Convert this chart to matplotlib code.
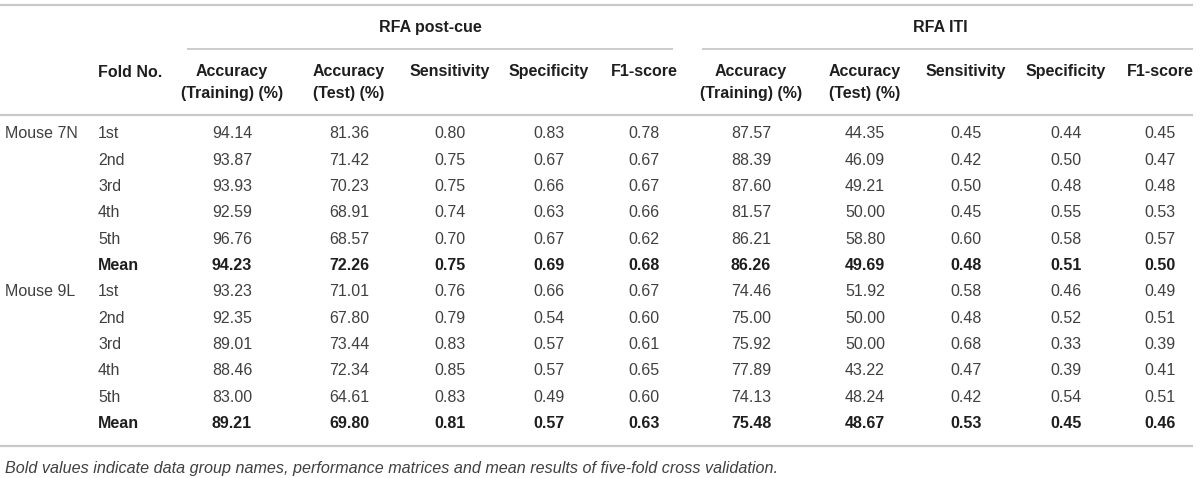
import matplotlib
matplotlib.use('Agg')
import matplotlib.pyplot as plt

plt.rcParams['font.family'] = ['Liberation Sans', 'DejaVu Sans']

# table content
groups = ['RFA post-cue', 'RFA ITI']
metrics = ['Accuracy\n(Training) (%)', 'Accuracy\n(Test) (%)', 'Sensitivity', 'Specificity', 'F1-score']
mice = ['Mouse 7N', 'Mouse 9L']
folds = ['1st', '2nd', '3rd', '4th', '5th', 'Mean']

postcue_7n = [
    ['94.14', '81.36', '0.80', '0.83', '0.78'],
    ['93.87', '71.42', '0.75', '0.67', '0.67'],
    ['93.93', '70.23', '0.75', '0.66', '0.67'],
    ['92.59', '68.91', '0.74', '0.63', '0.66'],
    ['96.76', '68.57', '0.70', '0.67', '0.62'],
    ['94.23', '72.26', '0.75', '0.69', '0.68'],
]
iti_7n = [
    ['87.57', '44.35', '0.45', '0.44', '0.45'],
    ['88.39', '46.09', '0.42', '0.50', '0.47'],
    ['87.60', '49.21', '0.50', '0.48', '0.48'],
    ['81.57', '50.00', '0.45', '0.55', '0.53'],
    ['86.21', '58.80', '0.60', '0.58', '0.57'],
    ['86.26', '49.69', '0.48', '0.51', '0.50'],
]
postcue_9l = [
    ['93.23', '71.01', '0.76', '0.66', '0.67'],
    ['92.35', '67.80', '0.79', '0.54', '0.60'],
    ['89.01', '73.44', '0.83', '0.57', '0.61'],
    ['88.46', '72.34', '0.85', '0.57', '0.65'],
    ['83.00', '64.61', '0.83', '0.49', '0.60'],
    ['89.21', '69.80', '0.81', '0.57', '0.63'],
]
iti_9l = [
    ['74.46', '51.92', '0.58', '0.46', '0.49'],
    ['75.00', '50.00', '0.48', '0.52', '0.51'],
    ['75.92', '50.00', '0.68', '0.33', '0.39'],
    ['77.89', '43.22', '0.47', '0.39', '0.41'],
    ['74.13', '48.24', '0.42', '0.54', '0.51'],
    ['75.48', '48.67', '0.53', '0.45', '0.46'],
]
footnote = ('Bold values indicate data group names, performance matrices and '
            'mean results of five-fold cross validation.')

# layout (pixels)
W, H = 1200, 478
col_x = [232, 349, 450, 549, 644, 751, 865, 966, 1066, 1160]
group_x = [430, 940]
group_rule = [(187, 673), (702, 1193)]
row_y0, row_dy = 134, 26.3
rule_col = '#c8c8c8'
hdr_col = '#1e1e1e'
txt_col = '#404040'
fs = 11.5

fig = plt.figure(figsize=(W / 100, H / 100), dpi=100)
ax = fig.add_axes([0, 0, 1, 1])
ax.set_xlim(0, W)
ax.set_ylim(H, 0)
ax.axis('off')

# rules
for y in (5, 115, 446):
    ax.plot([0, 1193], [y, y], color=rule_col, lw=1.6, solid_capstyle='butt')
for (x0, x1) in group_rule:
    ax.plot([x0, x1], [49, 49], color=rule_col, lw=1.3, solid_capstyle='butt')

# header
for g, gx in zip(groups, group_x):
    ax.text(gx, 27, g, ha='center', va='center', fontsize=fs, fontweight='bold', color=hdr_col)
ax.text(98, 72, 'Fold No.', ha='left', va='center', fontsize=fs, fontweight='bold', color=hdr_col)
for i, cx in enumerate(col_x):
    ax.text(cx, 64, metrics[i % 5], ha='center', va='top', fontsize=fs, fontweight='bold',
            color=hdr_col, linespacing=1.6)

# body
blocks = [(mice[0], postcue_7n, iti_7n), (mice[1], postcue_9l, iti_9l)]
r = 0
for mouse, pc, iti in blocks:
    for k, fold in enumerate(folds):
        y = row_y0 + r * row_dy
        bold = fold == 'Mean'
        w = 'bold' if bold else 'normal'
        c = hdr_col if bold else txt_col
        if k == 0:
            ax.text(5, y, mouse, ha='left', va='center', fontsize=fs, color=txt_col)
        ax.text(98, y, fold, ha='left', va='center', fontsize=fs, fontweight=w, color=c)
        vals = pc[k] + iti[k]
        for cx, v in zip(col_x, vals):
            ax.text(cx, y, v, ha='center', va='center', fontsize=fs, fontweight=w, color=c)
        r += 1

ax.text(5, 469, footnote, ha='left', va='center', fontsize=11.6, style='italic', color='#404040')

fig.savefig('out.png', dpi=100)
